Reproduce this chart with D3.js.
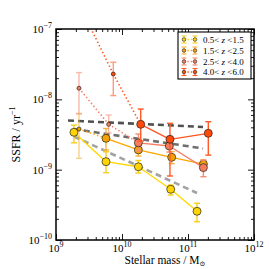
<!DOCTYPE html>
<html>
<head>
<meta charset="utf-8">
<script src="https://cdn.jsdelivr.net/npm/d3@7"></script>
<style>
  body { margin: 0; background: #fff; }
  text { font-family: "Liberation Serif", "DejaVu Serif", serif; }
</style>
</head>
<body>
<svg id="chart"></svg>
<script>
// redshift bins
const zLow = ["0.5", "1.5", "2.5", "4.0"];
const zHigh = ["1.5", "2.5", "4.0", "6.0"];

// 0.5 < z < 1.5
const yellowMass = [1.87e9, 5.72e9, 1.77e10, 5.47e10, 1.37e11];
const yellowSSFR = [3.40e-9, 1.30e-9, 1.10e-9, 5.26e-10, 2.56e-10];
const yellowHi = [4.3e-9, 1.80e-9, 1.35e-9, 6.05e-10, 3.33e-10];
const yellowLo = [2.41e-9, 9.06e-10, 8.95e-10, 4.36e-10, 1.82e-10];
const yellowSmall = [0, 0, 0, 0, 0];

// 1.5 < z < 2.5
const orangeMass = [2.23e9, 5.72e9, 1.77e10, 5.66e10, 1.71e11];
const orangeSSFR = [3.78e-9, 2.79e-9, 1.91e-9, 1.50e-9, 1.20e-9];
const orangeHi = [6.3e-9, 3.85e-9, 2.24e-9, 1.81e-9, 1.37e-9];
const orangeLo = [1.45e-9, 1.91e-9, 1.56e-9, 1.22e-9, 1.09e-9];
const orangeSmall = [1, 0, 0, 0, 0];

// 2.5 < z < 4.0
const salmonMass = [2.23e9, 6.28e9, 1.77e10, 5.21e10, 1.71e11];
const salmonSSFR = [1.44e-8, 4.41e-9, 2.41e-9, 2.17e-9, 1.07e-9];
const salmonHi = [2.4e-8, 5.98e-9, 3.21e-9, 2.64e-9, 1.37e-9];
const salmonLo = [6.2e-9, 3.32e-9, 1.84e-9, 1.78e-9, 7.94e-10];
const salmonSmall = [1, 1, 0, 0, 0];

// 4.0 < z < 6.0
const redMass = [2.23e9, 7.38e9, 1.92e10, 5.33e10, 2.03e11];
const redSSFR = [2.26e-7, 2.29e-8, 4.41e-9, 2.70e-9, 3.29e-9];
const redHi = [3.3e-7, 3.37e-8, 7.28e-9, 4.56e-9, 4.81e-9];
const redLo = [1.5e-7, 1.13e-8, 2.55e-9, 8.13e-10, 1.61e-9];
const redSmall = [1, 1, 0, 0, 0];

// grey dashed fits
const fitMass0 = [1.52e9, 1.87e9, 1.87e9];
const fitMass1 = [1.69e11, 1.69e11, 1.37e11];
const fitSSFR0 = [5.0e-9, 3.78e-9, 2.96e-9];
const fitSSFR1 = [4.05e-9, 2.0e-9, 4.66e-10];
const fitColors = ["#505050", "#6e6e6e", "#a2a2a2"];

const W = 269, H = 269;
const margin = { top: 29, right: 15, bottom: 29, left: 56 };

const svg = d3.select("#chart").attr("width", W).attr("height", H);

const x = d3.scaleLog().domain([1e9, 1e12]).range([margin.left, W - margin.right]);
const y = d3.scaleLog().domain([1e-10, 1e-7]).range([H - margin.bottom, margin.top]);

svg.append("clipPath").attr("id", "plotclip")
  .append("rect")
  .attr("x", x.range()[0]).attr("y", y.range()[1])
  .attr("width", x.range()[1] - x.range()[0])
  .attr("height", y.range()[0] - y.range()[1]);

const plot = svg.append("g").attr("clip-path", "url(#plotclip)");

// fits
plot.selectAll(".fit")
  .data(fitMass0.map((m, i) => i))
  .enter().append("line")
  .attr("x1", i => x(fitMass0[i])).attr("y1", i => y(fitSSFR0[i]))
  .attr("x2", i => x(fitMass1[i])).attr("y2", i => y(fitSSFR1[i]))
  .attr("stroke", i => fitColors[i])
  .attr("stroke-width", 2.6)
  .attr("stroke-dasharray", "6,4");

const series = [
  { mass: yellowMass, ssfr: yellowSSFR, hi: yellowHi, lo: yellowLo, small: yellowSmall,
    fill: "#ffd400", line: "#ffd700", err: "#f7cf1a" },
  { mass: orangeMass, ssfr: orangeSSFR, hi: orangeHi, lo: orangeLo, small: orangeSmall,
    fill: "#f5a300", line: "#ffa500", err: "#f9b23c" },
  { mass: salmonMass, ssfr: salmonSSFR, hi: salmonHi, lo: salmonLo, small: salmonSmall,
    fill: "#f57d5c", line: "#f47f63", err: "#f48d72" },
  { mass: redMass, ssfr: redSSFR, hi: redHi, lo: redLo, small: redSmall,
    fill: "#ff4a0a", line: "#ff5522", err: "#ff5a26" }
];

const capW = 3;

series.forEach(s => {
  const pts = s.mass.map((m, i) => ({ m: m, v: s.ssfr[i], hi: s.hi[i], lo: s.lo[i], small: s.small[i] }));
  const g = plot.append("g");

  // connecting lines, dotted where a small marker is involved
  for (let i = 0; i < pts.length - 1; i++) {
    const dotted = pts[i].small || pts[i + 1].small;
    g.append("path")
      .attr("d", d3.line().x(d => x(d.m)).y(d => y(d.v))([pts[i], pts[i + 1]]))
      .attr("fill", "none")
      .attr("stroke", s.line)
      .attr("stroke-width", dotted ? 1.6 : 1.3)
      .attr("stroke-dasharray", dotted ? "1.4,2.4" : null);
  }

  // error bars
  const eb = g.selectAll(".eb").data(pts).enter().append("g")
    .attr("stroke", s.err)
    .attr("stroke-width", 1.4)
    .attr("opacity", d => d.small ? 0.6 : 1);
  eb.append("line")
    .attr("x1", d => x(d.m)).attr("x2", d => x(d.m))
    .attr("y1", d => y(d.lo)).attr("y2", d => y(d.hi));
  eb.append("line")
    .attr("x1", d => x(d.m) - capW).attr("x2", d => x(d.m) + capW)
    .attr("y1", d => y(d.lo)).attr("y2", d => y(d.lo));
  eb.append("line")
    .attr("x1", d => x(d.m) - capW).attr("x2", d => x(d.m) + capW)
    .attr("y1", d => y(d.hi)).attr("y2", d => y(d.hi));

  // markers
  g.selectAll(".pt").data(pts).enter().append("circle")
    .attr("cx", d => x(d.m)).attr("cy", d => y(d.v))
    .attr("r", d => d.small ? 2 : 4)
    .attr("fill", s.fill)
    .attr("stroke", "#222")
    .attr("stroke-width", 0.7);
});

// ticks on all four sides
const xMajor = [1e9, 1e10, 1e11, 1e12];
const yMajor = [1e-10, 1e-9, 1e-8, 1e-7];
const xMinor = [], yMinor = [];
[1e9, 1e10, 1e11].forEach(d => { for (let k = 2; k < 10; k++) xMinor.push(d * k); });
[1e-10, 1e-9, 1e-8].forEach(d => { for (let k = 2; k < 10; k++) yMinor.push(d * k); });

const x0 = x.range()[0], x1 = x.range()[1], y0 = y.range()[0], y1 = y.range()[1];

function tickAxis(axis, vals, size, tr) {
  svg.append("g").attr("transform", tr)
    .call(axis.tickValues(vals).tickSize(-size).tickFormat(""))
    .call(g => g.select(".domain").remove())
    .call(g => g.selectAll("line").attr("stroke", "#000").attr("stroke-width", 0.9));
}
tickAxis(d3.axisBottom(x), xMajor, 6, `translate(0,${y0})`);
tickAxis(d3.axisBottom(x), xMinor, 3, `translate(0,${y0})`);
tickAxis(d3.axisTop(x), xMajor, 6, `translate(0,${y1})`);
tickAxis(d3.axisTop(x), xMinor, 3, `translate(0,${y1})`);
tickAxis(d3.axisLeft(y), yMajor, 6, `translate(${x0},0)`);
tickAxis(d3.axisLeft(y), yMinor, 3, `translate(${x0},0)`);
tickAxis(d3.axisRight(y), yMajor, 6, `translate(${x1},0)`);
tickAxis(d3.axisRight(y), yMinor, 3, `translate(${x1},0)`);

svg.append("rect")
  .attr("x", x0).attr("y", y1).attr("width", x1 - x0).attr("height", y0 - y1)
  .attr("fill", "none").attr("stroke", "#000").attr("stroke-width", 1.5);

// tick labels
const xl = svg.selectAll(".xl").data(xMajor).enter().append("text")
  .attr("x", d => x(d)).attr("y", y0 + 12)
  .attr("text-anchor", "middle").attr("font-size", 11);
xl.append("tspan").text("10");
xl.append("tspan").attr("dy", -5).attr("font-size", 8).text(d => Math.round(Math.log10(d)));

const yl = svg.selectAll(".yl").data(yMajor).enter().append("text")
  .attr("x", x0 - 4).attr("y", d => y(d) + 4)
  .attr("text-anchor", "end").attr("font-size", 11);
yl.append("tspan").text("10");
yl.append("tspan").attr("dy", -5).attr("font-size", 8).text(d => "\u2212" + Math.round(-Math.log10(d)));

// axis titles
const xt = svg.append("text")
  .attr("x", 165).attr("y", 264)
  .attr("text-anchor", "middle").attr("font-size", 11.5);
xt.append("tspan").text("Stellar mass / M");
xt.append("tspan").attr("dy", 2).attr("font-size", 7).text("\u2299");

const yt = svg.append("text")
  .attr("transform", `translate(20,${(y0 + y1) / 2}) rotate(-90)`)
  .attr("text-anchor", "middle").attr("font-size", 12);
yt.append("tspan").text("SSFR / yr");
yt.append("tspan").attr("dy", -5).attr("font-size", 8).text("\u22121");

// legend
const lg = svg.append("g");
lg.append("rect")
  .attr("x", 178).attr("y", 32).attr("width", 73).attr("height", 47)
  .attr("fill", "#fff").attr("stroke", "#000").attr("stroke-width", 1.1);

const legY = [39.5, 50.5, 61.5, 72];
series.forEach((s, i) => {
  const ly = legY[i];
  lg.append("line")
    .attr("x1", 184).attr("x2", 195).attr("y1", ly).attr("y2", ly)
    .attr("stroke", s.line).attr("stroke-width", 1.4).attr("stroke-dasharray", "1.4,2");
  [184, 195].forEach(cx => {
    const e = lg.append("g").attr("stroke", s.err).attr("stroke-width", 1.1);
    e.append("line").attr("x1", cx).attr("x2", cx).attr("y1", ly - 3.5).attr("y2", ly + 3.5);
    e.append("line").attr("x1", cx - 2.5).attr("x2", cx + 2.5).attr("y1", ly - 3.5).attr("y2", ly - 3.5);
    e.append("line").attr("x1", cx - 2.5).attr("x2", cx + 2.5).attr("y1", ly + 3.5).attr("y2", ly + 3.5);
    lg.append("circle").attr("cx", cx).attr("cy", ly).attr("r", 1.8)
      .attr("fill", s.fill).attr("stroke", "#222").attr("stroke-width", 0.6);
  });
  const t = lg.append("text").attr("x", 203).attr("y", ly + 3).attr("font-size", 9);
  t.append("tspan").text(zLow[i] + "< ");
  t.append("tspan").attr("font-style", "italic").text("z");
  t.append("tspan").text(" <" + zHigh[i]);
});
</script>
</body>
</html>
